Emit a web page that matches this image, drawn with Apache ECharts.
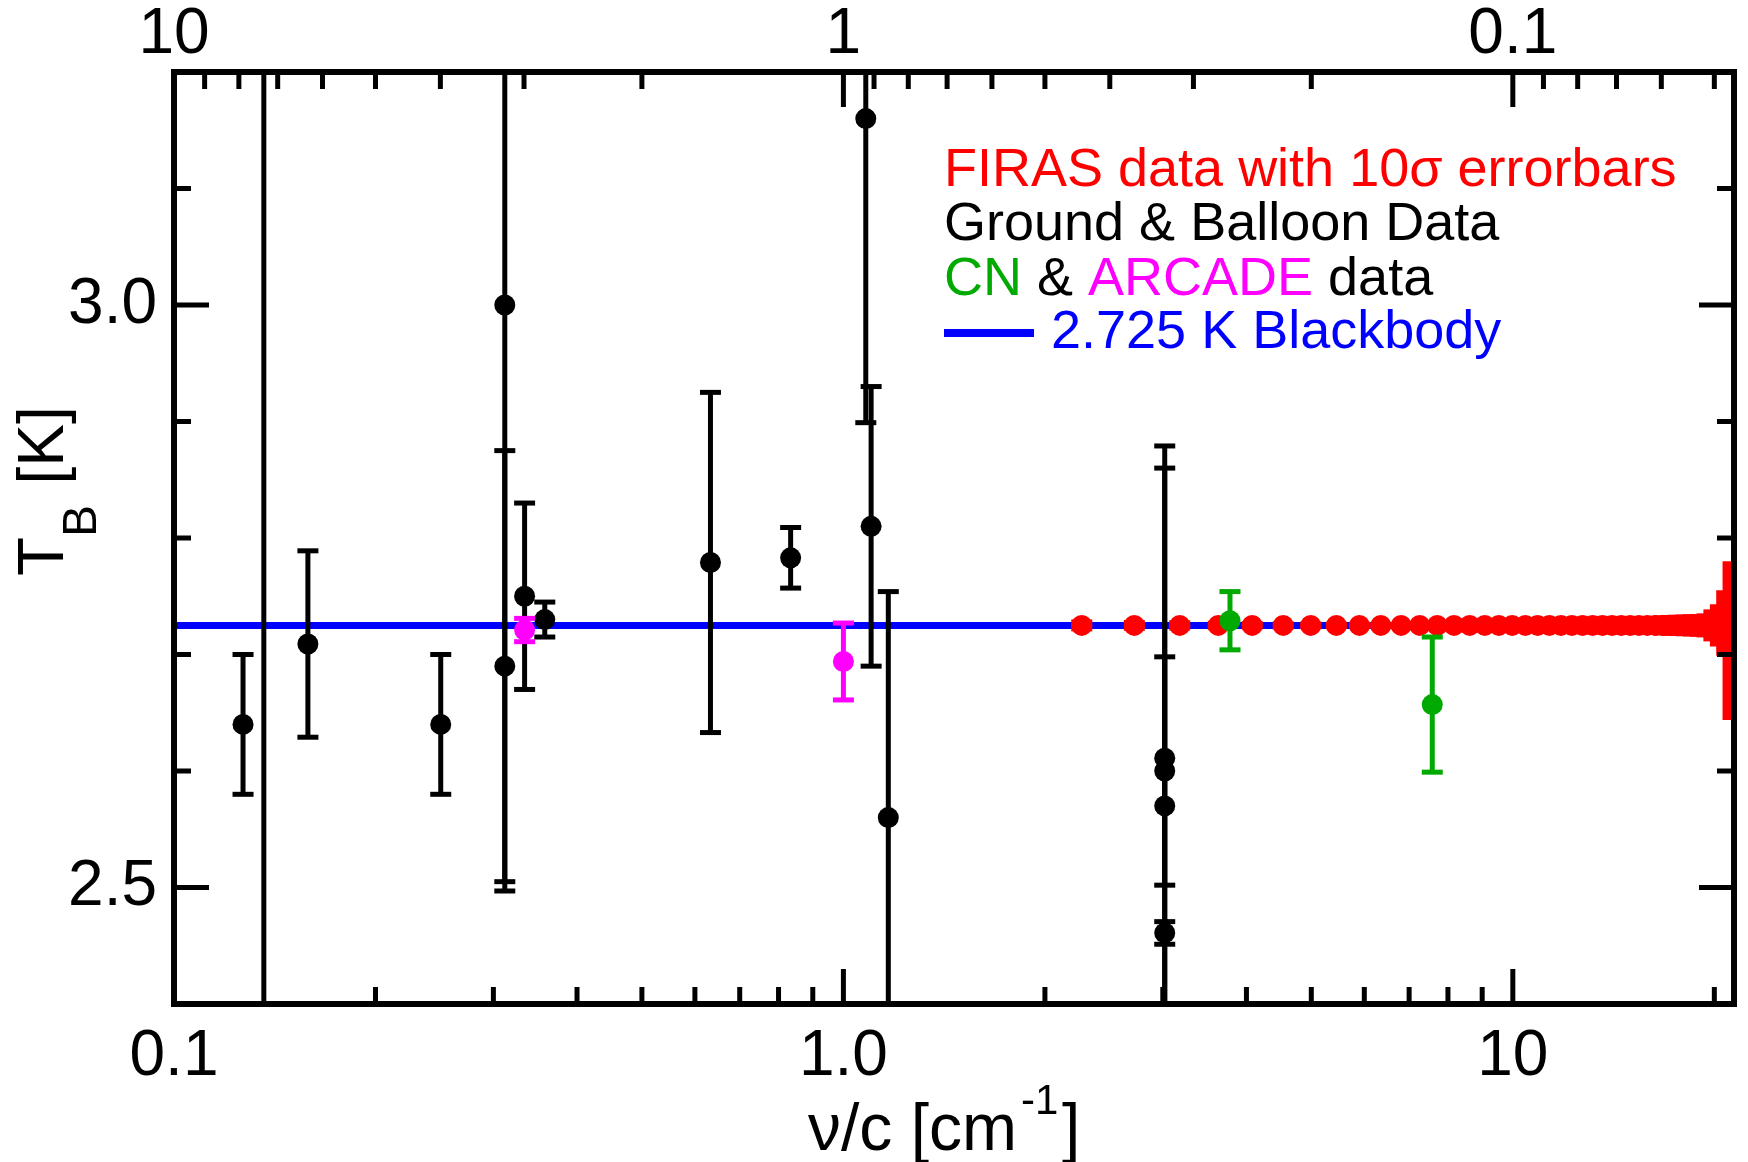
<!DOCTYPE html>
<html>
<head>
<meta charset="utf-8">
<title>CMB brightness temperature</title>
<script src="https://cdn.jsdelivr.net/npm/echarts@6/dist/echarts.min.js"></script>
<style>
  html, body { margin: 0; padding: 0; background: #fff; }
  #chart { width: 1748px; height: 1162px; }
</style>
</head>
<body>
<div id="chart"></div>
<script>
// ---------- axis ranges ----------
const X_MIN = 0.1, X_MAX = 21.4;   // ν/c [cm^-1]
const Y_MIN = 2.4, Y_MAX = 3.2;    // T_B [K]

// ---------- ticks ----------
const xMajorTicks = [0.1, 1, 10];
const xTickLabels = ['0.1', '1.0', '10'];
const xMinorTicks = [0.2, 0.3, 0.4, 0.5, 0.6, 0.7, 0.8, 0.9, 2, 3, 4, 5, 6, 7, 8, 9, 20];
// top axis: wavelength [cm]
const lambdaMajorTicks = [10, 1, 0.1];
const lambdaTickLabels = ['10', '1', '0.1'];
const lambdaMinorTicks = [9, 8, 7, 6, 5, 4, 3, 2, 0.9, 0.8, 0.7, 0.6, 0.5, 0.4, 0.3, 0.2,
                          0.09, 0.08, 0.07, 0.06, 0.05];
const yMajorTicks = [2.5, 3.0];
const yTickLabels = ['2.5', '3.0'];
const yMinorTicks = [2.6, 2.7, 2.8, 2.9, 3.1];

// ---------- ground & balloon measurements ----------
const groundNu  = [0.1268, 0.1362, 0.1585, 0.2503, 0.312, 0.312, 0.334, 0.358, 0.633, 0.834,
                   1.08, 1.10, 1.167, 3.02, 3.02, 3.02, 3.02];
const groundT   = [2.640, 3.50, 2.709, 2.640, 3.000, 2.690, 2.750, 2.730, 2.779, 2.783,
                   3.160, 2.810, 2.560, 2.611, 2.600, 2.570, 2.461];
const groundErr = [0.060, 1.20, 0.080, 0.060, 0.503, 0.185, 0.080, 0.015, 0.146, 0.026,
                   0.261, 0.120, 0.194, 0.249, 0.098, 0.309, 0.0097];

// ---------- CN and ARCADE ----------
const cnNu  = [3.78, 7.58];
const cnT   = [2.729, 2.657];
const cnErr = [0.025, 0.058];

const arcadeNu  = [0.334, 1.00];
const arcadeT   = [2.721, 2.694];
const arcadeErr = [0.010, 0.033];

// ---------- FIRAS (10σ error bars) ----------
const firasNu = [2.27, 2.72, 3.18, 3.63, 4.08, 4.54, 4.99, 5.45, 5.90, 6.35, 6.81, 7.26, 7.71,
                 8.17, 8.62, 9.08, 9.53, 9.98, 10.44, 10.89, 11.34, 11.80, 12.25, 12.71, 13.16,
                 13.61, 14.07, 14.52, 14.97, 15.43, 15.88, 16.34, 16.79, 17.24, 17.70, 18.15,
                 18.61, 19.06, 19.51, 19.97, 20.42, 20.87, 21.33];
const firasT = [2.725, 2.725, 2.725, 2.725, 2.725, 2.725, 2.725, 2.725, 2.725, 2.725, 2.725,
                2.725, 2.725, 2.725, 2.725, 2.725, 2.725, 2.725, 2.725, 2.725, 2.725, 2.725,
                2.725, 2.725, 2.725, 2.725, 2.725, 2.725, 2.725, 2.725, 2.725, 2.725, 2.725,
                2.725, 2.725, 2.725, 2.725, 2.725, 2.725, 2.725, 2.725, 2.727, 2.712];
const firasErr10 = [0.0030, 0.0025, 0.0022, 0.0018, 0.0015, 0.0013, 0.0011, 0.0010, 0.0009,
                    0.0008, 0.0007, 0.0007, 0.0007, 0.0007, 0.0008, 0.0009, 0.0010, 0.0012,
                    0.0014, 0.0017, 0.0019, 0.0021, 0.0024, 0.0027, 0.0030, 0.0033, 0.0036,
                    0.0040, 0.0045, 0.0050, 0.0055, 0.0060, 0.0065, 0.0068, 0.0070, 0.0072,
                    0.0074, 0.0076, 0.0082, 0.0116, 0.0160, 0.0260, 0.0660];

// ---------- 2.725 K blackbody ----------
const bbNu = [X_MIN, X_MAX];
const bbT  = [2.725, 2.725];

// ---------- styling ----------
const FONT = '"Liberation Sans", Arial, Helvetica, sans-serif';
const RED = '#ff0000', GREEN = '#00aa00', MAGENTA = '#ff00ff', BLUE = '#0000ff', BLACK = '#000000';
const BAR_W = 5, CAP_W = 21, CAP_LW = 5, DOT_R = 10.5;
const FRAME_W = 6, TICK_W = 5, TICK_MAJOR = 35, TICK_MINOR = 17;

function zip3(a, b, c) { return a.map((v, i) => [v, b[i], c[i]]); }

function labelFor(ticks, labels) {
  return function (v) {
    for (let i = 0; i < ticks.length; i++) {
      if (Math.abs(v - ticks[i]) < 1e-6 * Math.max(1, ticks[i])) return labels[i];
    }
    return '';
  };
}

// error bar with caps and a filled dot
function errorBarRenderer(color) {
  return function (params, api) {
    const x = api.value(0), t = api.value(1), e = api.value(2);
    const c = api.coord([x, t]);
    const hi = api.coord([x, t + e]);
    const lo = api.coord([x, t - e]);
    const hw = CAP_W / 2;
    return {
      type: 'group',
      children: [
        { type: 'line', shape: { x1: c[0], y1: hi[1], x2: c[0], y2: lo[1] },
          style: { stroke: color, lineWidth: BAR_W } },
        { type: 'line', shape: { x1: c[0] - hw, y1: hi[1], x2: c[0] + hw, y2: hi[1] },
          style: { stroke: color, lineWidth: CAP_LW } },
        { type: 'line', shape: { x1: c[0] - hw, y1: lo[1], x2: c[0] + hw, y2: lo[1] },
          style: { stroke: color, lineWidth: CAP_LW } },
        { type: 'circle', shape: { cx: c[0], cy: c[1], r: DOT_R },
          style: { fill: color } }
      ]
    };
  };
}

// densely packed FIRAS points: the error range is drawn as a solid cap-wide band
function errorBoxRenderer(color) {
  return function (params, api) {
    const x = api.value(0), t = api.value(1), e = api.value(2);
    const c = api.coord([x, t]);
    const hi = api.coord([x, t + e]);
    const lo = api.coord([x, t - e]);
    const hw = CAP_W / 2;
    return {
      type: 'group',
      children: [
        { type: 'rect', shape: { x: c[0] - hw, y: hi[1] - CAP_LW / 2, width: CAP_W,
                                 height: lo[1] - hi[1] + CAP_LW },
          style: { fill: color } },
        { type: 'circle', shape: { cx: c[0], cy: c[1], r: DOT_R },
          style: { fill: color } }
      ]
    };
  };
}

// frame and inward ticks: [x, y, direction, isMajor]; direction 0 up, 1 down, 2 right, 3 left, 4 frame
const frameTicks = [[X_MIN, Y_MAX, 4, 0]];
xMajorTicks.forEach(v => frameTicks.push([v, Y_MIN, 0, 1]));
xMinorTicks.forEach(v => frameTicks.push([v, Y_MIN, 0, 0]));
lambdaMajorTicks.forEach(l => frameTicks.push([1 / l, Y_MAX, 1, 1]));
lambdaMinorTicks.forEach(l => frameTicks.push([1 / l, Y_MAX, 1, 0]));
yMajorTicks.forEach(v => { frameTicks.push([X_MIN, v, 2, 1]); frameTicks.push([X_MAX, v, 3, 1]); });
yMinorTicks.forEach(v => { frameTicks.push([X_MIN, v, 2, 0]); frameTicks.push([X_MAX, v, 3, 0]); });

function frameRenderer(params, api) {
  const p = api.coord([api.value(0), api.value(1)]);
  const dir = api.value(2);
  if (dir === 4) {
    const q = api.coord([X_MAX, Y_MIN]);
    return { type: 'rect', shape: { x: p[0], y: p[1], width: q[0] - p[0], height: q[1] - p[1] },
             style: { fill: 'none', stroke: BLACK, lineWidth: FRAME_W } };
  }
  const len = api.value(3) ? TICK_MAJOR : TICK_MINOR;
  const d = [[0, -1], [0, 1], [1, 0], [-1, 0]][dir];
  return { type: 'line',
           shape: { x1: p[0], y1: p[1], x2: p[0] + d[0] * len, y2: p[1] + d[1] * len },
           style: { stroke: BLACK, lineWidth: TICK_W } };
}

const tickLabelStyle = { fontSize: 64, color: BLACK, fontFamily: FONT };

const chart = echarts.init(document.getElementById('chart'), null, { renderer: 'canvas' });

chart.setOption({
  animation: false,
  backgroundColor: '#ffffff',
  textStyle: { fontFamily: FONT },
  grid: { left: 174, top: 72, right: 14, bottom: 158, containLabel: false },
  xAxis: [
    { type: 'log', logBase: 10, min: X_MIN, max: X_MAX, position: 'bottom',
      axisLine: { show: false }, axisTick: { show: false }, splitLine: { show: false },
      axisLabel: Object.assign({ formatter: labelFor(xMajorTicks, xTickLabels), margin: 21 }, tickLabelStyle) },
    { type: 'log', logBase: 10, min: X_MIN, max: X_MAX, position: 'top',
      axisLine: { show: false }, axisTick: { show: false }, splitLine: { show: false },
      axisLabel: Object.assign({ formatter: labelFor(lambdaMajorTicks.map(l => 1 / l), lambdaTickLabels), margin: 5 }, tickLabelStyle) }
  ],
  yAxis: {
    type: 'value', min: Y_MIN, max: Y_MAX, interval: 0.1,
    axisLine: { show: false }, axisTick: { show: false }, splitLine: { show: false },
    axisLabel: Object.assign({ formatter: labelFor(yMajorTicks, yTickLabels), margin: 17 }, tickLabelStyle)
  },
  series: [
    { name: '2.725 K Blackbody', type: 'line', z: 2, symbol: 'none', silent: true,
      data: bbNu.map((v, i) => [v, bbT[i]]),
      lineStyle: { color: BLUE, width: 7 } },
    { name: 'Ground & Balloon Data', type: 'custom', z: 3, clip: true, silent: true,
      renderItem: errorBarRenderer(BLACK), data: zip3(groundNu, groundT, groundErr) },
    { name: 'FIRAS', type: 'custom', z: 4, clip: true, silent: true,
      renderItem: errorBoxRenderer(RED), data: zip3(firasNu, firasT, firasErr10) },
    { name: 'ARCADE', type: 'custom', z: 5, clip: true, silent: true,
      renderItem: errorBarRenderer(MAGENTA), data: zip3(arcadeNu, arcadeT, arcadeErr) },
    { name: 'CN', type: 'custom', z: 6, clip: true, silent: true,
      renderItem: errorBarRenderer(GREEN), data: zip3(cnNu, cnT, cnErr) },
    { name: 'frame', type: 'custom', z: 10, clip: false, silent: true,
      renderItem: frameRenderer, data: frameTicks }
  ],
  graphic: [
    // legend
    { type: 'text', x: 944, y: 171.5, silent: true,
      style: { text: 'FIRAS data with 10σ errorbars', fill: RED, fontSize: 54, fontFamily: FONT,
               align: 'left', verticalAlign: 'middle' } },
    { type: 'text', x: 944, y: 225.5, silent: true,
      style: { text: 'Ground & Balloon Data', fill: BLACK, fontSize: 54, fontFamily: FONT,
               align: 'left', verticalAlign: 'middle' } },
    { type: 'text', x: 944, y: 280, silent: true,
      style: { text: '{g|CN} & {m|ARCADE} data', fill: BLACK, fontSize: 54, fontFamily: FONT,
               align: 'left', verticalAlign: 'middle',
               rich: { g: { fill: GREEN, fontSize: 54, fontFamily: FONT },
                       m: { fill: MAGENTA, fontSize: 54, fontFamily: FONT } } } },
    { type: 'line', silent: true, shape: { x1: 944, y1: 333, x2: 1034, y2: 333 },
      style: { stroke: BLUE, lineWidth: 8 } },
    { type: 'text', x: 1051, y: 333.3, silent: true,
      style: { text: '2.725 K Blackbody', fill: BLUE, fontSize: 54, fontFamily: FONT,
               align: 'left', verticalAlign: 'middle' } },
    // x-axis title
    { type: 'text', x: 808, y: 1132, silent: true,
      style: { text: 'ν/c [cm', fill: BLACK, fontSize: 66, fontFamily: FONT, align: 'left', verticalAlign: 'middle' } },
    { type: 'text', x: 1021, y: 1102, silent: true,
      style: { text: '-1', fill: BLACK, fontSize: 42, fontFamily: FONT, align: 'left', verticalAlign: 'middle' } },
    { type: 'text', x: 1062, y: 1132, silent: true,
      style: { text: ']', fill: BLACK, fontSize: 66, fontFamily: FONT, align: 'left', verticalAlign: 'middle' } },
    // y-axis title (reads bottom to top)
    { type: 'text', x: 45, y: 576, rotation: Math.PI / 2, silent: true,
      style: { text: 'T', fill: BLACK, fontSize: 64, fontFamily: FONT, align: 'left', verticalAlign: 'middle' } },
    { type: 'text', x: 83, y: 537, rotation: Math.PI / 2, silent: true,
      style: { text: 'B', fill: BLACK, fontSize: 48, fontFamily: FONT, align: 'left', verticalAlign: 'middle' } },
    { type: 'text', x: 45, y: 484.5, rotation: Math.PI / 2, silent: true,
      style: { text: '[K]', fill: BLACK, fontSize: 64, fontFamily: FONT, align: 'left', verticalAlign: 'middle' } }
  ]
});
</script>
</body>
</html>
